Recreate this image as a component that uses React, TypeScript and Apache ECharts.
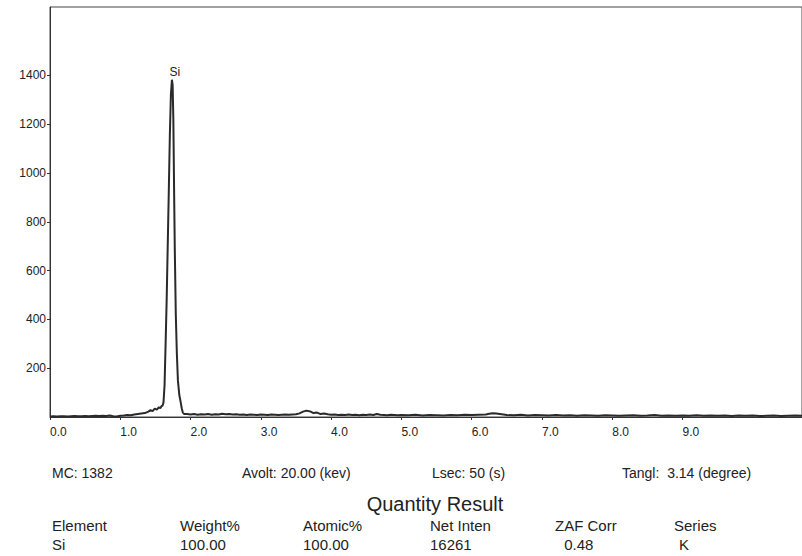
import React, { useEffect, useRef } from "react";
import * as echarts from "echarts";

// Spectrum (energy keV, counts)
const spectrumLow: [number, number][] = [
  [0.0, 2], [0.05, 3], [0.1, 2], [0.15, 3], [0.2, 3], [0.25, 2], [0.3, 3], [0.35, 4], [0.4, 3],
  [0.45, 3], [0.5, 4], [0.55, 3], [0.6, 4], [0.65, 5], [0.7, 4], [0.75, 5], [0.8, 4], [0.85, 6],
  [0.9, 3], [0.95, 2], [1.0, 5], [1.05, 6], [1.1, 8], [1.15, 7], [1.2, 10], [1.25, 12], [1.3, 14],
  [1.35, 16], [1.4, 22], [1.43, 28], [1.46, 24], [1.49, 34], [1.52, 30], [1.55, 40], [1.57, 36],
  [1.59, 46],
];
const spectrumPeak: [number, number][] = [
  [1.6, 45], [1.615, 60], [1.63, 130], [1.645, 300], [1.66, 480], [1.675, 700], [1.69, 920],
  [1.705, 1150], [1.72, 1320], [1.735, 1382], [1.745, 1360], [1.755, 1220], [1.765, 950],
  [1.775, 700], [1.79, 420], [1.805, 260], [1.82, 150], [1.84, 90], [1.86, 60], [1.875, 35],
  [1.89, 18], [1.91, 12],
];
const spectrumHigh: [number, number][] = [
  [1.95, 12], [2.0, 10], [2.05, 12], [2.1, 9], [2.15, 11], [2.2, 10], [2.25, 12], [2.3, 9],
  [2.35, 11], [2.4, 10], [2.45, 13], [2.5, 11], [2.55, 12], [2.6, 10], [2.65, 11], [2.7, 9],
  [2.75, 10], [2.8, 8], [2.85, 10], [2.9, 9], [2.95, 8], [3.0, 10], [3.05, 9], [3.1, 8],
  [3.15, 10], [3.2, 9], [3.25, 8], [3.3, 9], [3.35, 10], [3.4, 9], [3.45, 10], [3.5, 11],
  [3.55, 15], [3.6, 22], [3.65, 26], [3.7, 23], [3.75, 16], [3.8, 18], [3.85, 12], [3.9, 14],
  [3.95, 11], [4.0, 9], [4.05, 10], [4.1, 8], [4.15, 9], [4.2, 8], [4.25, 10], [4.3, 8],
  [4.35, 9], [4.4, 7], [4.45, 9], [4.5, 8], [4.55, 10], [4.6, 8], [4.65, 12], [4.7, 9],
  [4.75, 8], [4.8, 7], [4.85, 9], [4.9, 8], [4.95, 7], [5.0, 8], [5.1, 7], [5.2, 9], [5.3, 6],
  [5.4, 8], [5.5, 7], [5.6, 6], [5.7, 8], [5.8, 7], [5.9, 9], [6.0, 8], [6.1, 9], [6.2, 10],
  [6.25, 13], [6.3, 15], [6.35, 14], [6.4, 12], [6.45, 10], [6.5, 8], [6.6, 7], [6.7, 9], [6.8, 6],
  [6.9, 8], [7.0, 7], [7.1, 6], [7.2, 8], [7.3, 6], [7.4, 7], [7.5, 5], [7.6, 7], [7.7, 6],
  [7.8, 5], [7.9, 7], [8.0, 6], [8.1, 5], [8.2, 6], [8.3, 7], [8.4, 5], [8.5, 6], [8.6, 8],
  [8.7, 5], [8.8, 6], [8.9, 5], [9.0, 6], [9.1, 5], [9.2, 7], [9.3, 5], [9.4, 6], [9.5, 5],
  [9.6, 6], [9.7, 4], [9.8, 6], [9.9, 5], [10.0, 6], [10.1, 4], [10.2, 5], [10.3, 6], [10.4, 4],
  [10.5, 5], [10.6, 6], [10.7, 5],
];

const peakLabel = { name: "Si", energy: 1.735, counts: 1382 };

const xTicks = [0, 1, 2, 3, 4, 5, 6, 7, 8, 9];
const yTicks = [200, 400, 600, 800, 1000, 1200, 1400];

const infoRow = ["MC: 1382", "Avolt: 20.00 (kev)", "Lsec: 50 (s)", "Tangl:  3.14 (degree)"];
const tableTitle = "Quantity Result";
const tableHeader = ["Element", "Weight%", "Atomic%", "Net Inten", "ZAF Corr", "Series"];
const tableRow = ["Si", "100.00", "100.00", "16261", " 0.48", "K"];

const FONT = "'Liberation Sans', Arial, sans-serif";
const TXT = "#222";

export default function App() {
  const ref = useRef<HTMLDivElement>(null);
  useEffect(() => {
    document.body.style.margin = "0";
    const chart = echarts.init(ref.current!, null, { renderer: "svg" });
    const data = [...spectrumLow, ...spectrumPeak, ...spectrumHigh];

    const infoX = [52, 242, 432, 622];
    const colX = [52, 180, 303, 430, 555, 674];
    const valX = [52, 180, 303, 430, 560, 679];

    const graphics: any[] = [];
    infoRow.forEach((t, i) =>
      graphics.push({
        type: "text", x: infoX[i], y: 473,
        style: { text: t, fontFamily: FONT, fontSize: 14, fill: TXT, textVerticalAlign: "middle" },
      })
    );
    graphics.push({
      type: "text", x: 435, y: 504,
      style: { text: tableTitle, fontFamily: FONT, fontSize: 20, fill: TXT, textAlign: "center", textVerticalAlign: "middle" },
    });
    tableHeader.forEach((t, i) =>
      graphics.push({
        type: "text", x: colX[i], y: 525,
        style: { text: t, fontFamily: FONT, fontSize: 15, fill: TXT, textVerticalAlign: "middle" },
      })
    );
    tableRow.forEach((t, i) =>
      graphics.push({
        type: "text", x: valX[i], y: 544,
        style: { text: t, fontFamily: FONT, fontSize: 15, fill: TXT, textVerticalAlign: "middle" },
      })
    );

    chart.setOption({
      animation: false,
      backgroundColor: "#fff",
      grid: {
        left: 50, top: 7, width: 760, height: 410,
        show: true, borderColor: "#444", borderWidth: 1, backgroundColor: "transparent",
      },
      xAxis: {
        type: "value", min: 0, max: 10.7,
        axisLine: { show: true, lineStyle: { color: "#333", width: 1 } },
        axisTick: { show: true, length: 3, inside: false, customValues: xTicks, lineStyle: { color: "#333" } },
        axisLabel: {
          show: true, customValues: xTicks, formatter: (v: number) => v.toFixed(1),
          fontFamily: FONT, fontSize: 12, color: TXT, align: "left", margin: 9,
        },
        splitLine: { show: false },
      },
      yAxis: {
        type: "value", min: 0, max: 1680,
        axisLine: { show: true, lineStyle: { color: "#333", width: 1 } },
        axisTick: { show: true, length: 3, customValues: yTicks, lineStyle: { color: "#333" } },
        axisLabel: {
          show: true, customValues: yTicks, formatter: (v: number) => String(v),
          fontFamily: FONT, fontSize: 12, color: TXT, margin: 4,
        },
        splitLine: { show: false },
      },
      series: [
        {
          type: "line",
          data,
          showSymbol: false,
          symbol: "none",
          lineStyle: { color: "#2a2a2a", width: 2 },
          markPoint: {
            symbol: "circle",
            symbolSize: 0,
            data: [{ coord: [peakLabel.energy, peakLabel.counts], name: peakLabel.name }],
            label: {
              show: true, formatter: peakLabel.name, position: "top", distance: 2, offset: [3, 0],
              fontFamily: FONT, fontSize: 12, color: TXT,
            },
          },
        },
      ],
      graphic: graphics,
    });
    return () => chart.dispose();
  }, []);
  return <div ref={ref} style={{ width: 802, height: 556 }} />;
}
